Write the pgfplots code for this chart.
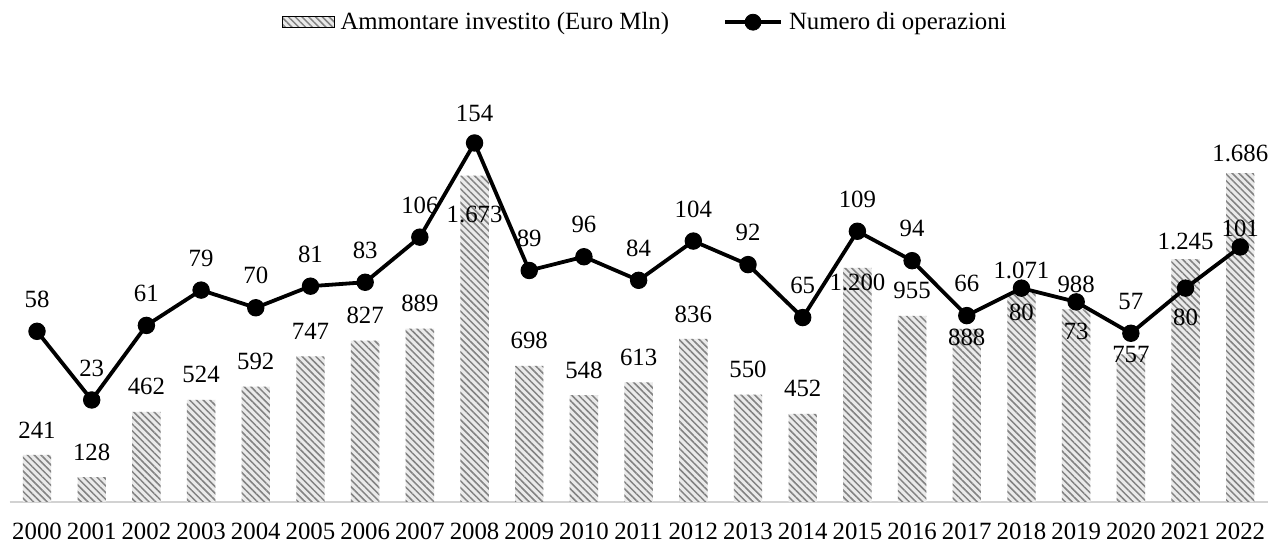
\documentclass[border=0pt]{standalone}
\usepackage{pgfplots}
\pgfplotsset{compat=1.18}
\usepackage{pgfplotstable}
\usetikzlibrary{patterns.meta}
\usepackage{fontspec}
\setmainfont{Liberation Serif}

\definecolor{barfill}{RGB}{234,234,234}
\definecolor{hatch}{RGB}{130,130,130}

% x, ammontare, etichetta, spostamento (pt), operazioni, etichetta, spostamento (pt)
\pgfplotstableread{
x  amt  alab   ady    ops  olab  ody
0  241  241    12.5   58   58    16
1  128  128    12.5   23   23    16
2  462  462    12.5   61   61    16
3  524  524    12.5   79   79    16
4  592  592    12.5   70   70    16
5  747  747    12.5   81   81    16
6  827  827    12.5   83   83    16
7  889  889    12.5   106  106   16
8  1673 1.673  -19.5  154  154   15
9  698  698    12.5   89   89    16
10 548  548    12.5   96   96    16
11 613  613    12.5   84   84    16
12 836  836    12.5   104  104   16
13 550  550    12.5   92   92    16
14 452  452    12.5   65   65    16
15 1200 1.200  -7     109  109   16
16 955  955    12.5   94   94    16
17 888  888    -4.5   66   66    16
18 1071 1.071  11.5   80   80    -12
19 988  988    12.5   73   73    -15
20 757  757    0      57   57    16
21 1245 1.245  9      80   80    -14.5
22 1686 1.686  10     101  101   9.5
}\data

\newcommand{\lblfont}{\fontsize{12.4}{14}\selectfont}

\begin{document}
\begin{tikzpicture}
\path[use as bounding box] (-4.83pt,-20.5pt) rectangle (633.2pt,251pt);

\begin{axis}[
  at={(0,0)}, anchor=south west,
  scale only axis,
  width=629pt, height=211pt,
  xmin=-0.5, xmax=22.5,
  ymin=0, ymax=2164,
  axis x line=bottom, axis y line=none,
  x axis line style={-, draw=gray!35, line width=0.6pt},
  xtick={0,...,22},
  xticklabels={2000,2001,2002,2003,2004,2005,2006,2007,2008,2009,2010,2011,2012,2013,2014,2015,2016,2017,2018,2019,2020,2021,2022},
  major tick length=0pt,
  xticklabel style={font=\lblfont, anchor=base, yshift=-19pt},
  clip=false,
]
\addplot[ybar, bar width=14.2pt, draw=none, fill=barfill,
  postaction={pattern={Lines[angle=-45, distance=2.4pt, line width=0.75pt]}, pattern color=hatch},
  point meta=explicit symbolic,
  visualization depends on={\thisrow{ady} \as \ady},
  nodes near coords,
  nodes near coords style={font=\lblfont, anchor=center, yshift=\ady pt, text=black},
] table[x=x, y=amt, meta=alab] {\data};
\end{axis}

\begin{axis}[
  at={(0,0)}, anchor=south west,
  scale only axis,
  width=629pt, height=211pt,
  xmin=-0.5, xmax=22.5,
  ymin=-29, ymax=186.1,
  hide axis,
  clip=false,
  legend style={at={(0.506,1.137)}, anchor=center, draw=none, fill=none,
    font=\lblfont, legend columns=2,
    /tikz/every odd column/.append style={column sep=1pt},
    /tikz/every even column/.append style={column sep=25pt}},
  legend cell align=left,
]
\addlegendimage{legend image code/.code={
  \path[fill=barfill, postaction={pattern={Lines[angle=-45, distance=2.4pt, line width=0.75pt]}, pattern color=hatch}]
    (0pt,-2.8pt) rectangle (26pt,2.8pt);}}
\addlegendentry{Ammontare investito (Euro Mln)}
\addlegendimage{legend image code/.code={
  \draw[black, line width=2pt] (0pt,0pt) -- (28pt,0pt);
  \fill[black] (14pt,0pt) circle (4pt);}}
\addlegendentry{Numero di operazioni}

\addplot[forget plot, black, line width=1.9pt, mark=*, mark size=4.1pt,
  mark options={fill=black, line width=0.5pt},
  point meta=explicit symbolic,
  visualization depends on={\thisrow{ody} \as \ody},
  nodes near coords,
  nodes near coords style={font=\lblfont, anchor=center, yshift=\ody pt, text=black},
] table[x=x, y=ops, meta=olab] {\data};
\end{axis}
\end{tikzpicture}
\end{document}
